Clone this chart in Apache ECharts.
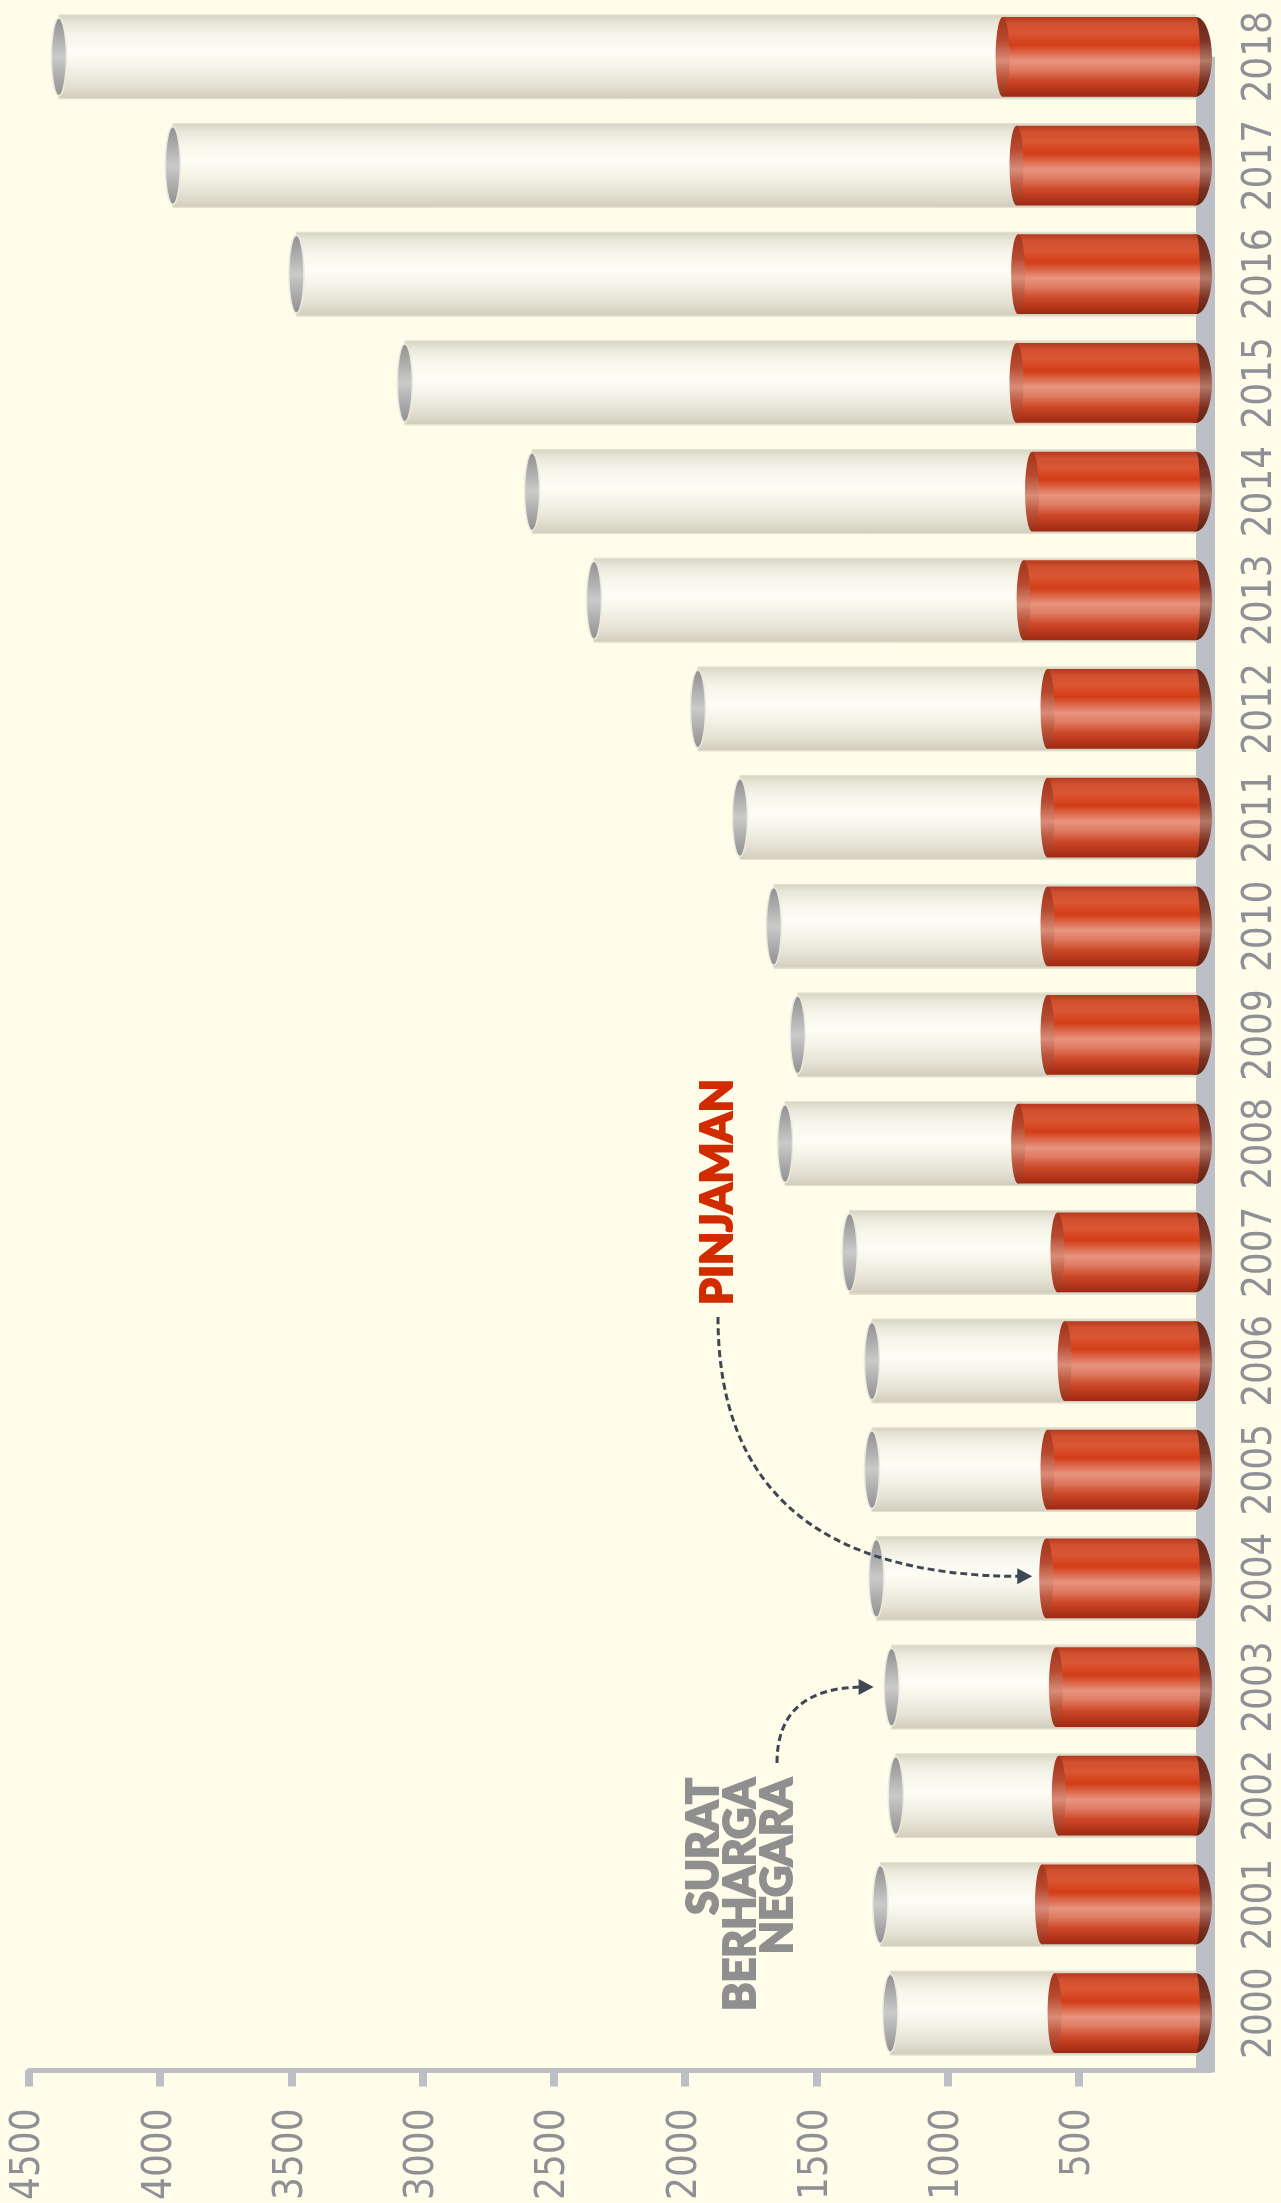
<!DOCTYPE html>
<html>
<head>
<meta charset="utf-8">
<script src="https://cdn.jsdelivr.net/npm/echarts@6/dist/echarts.min.js"></script>
<style>
html,body{margin:0;padding:0;background:#fffcea;}
#c{width:1281px;height:2203px;}
</style>
</head>
<body>
<div id="c"></div>
<script>
// ---- data (triliun rupiah) ----
const years = ['2000','2001','2002','2003','2004','2005','2006','2007','2008','2009','2010','2011','2012','2013','2014','2015','2016','2017','2018'];
const pinjaman = [592, 640, 576, 587, 624, 619, 554, 581, 731, 619, 619, 619, 619, 710, 678, 737, 731, 737, 790];
const suratBerhargaNegara = [626, 616, 621, 626, 647, 669, 734, 792, 888, 952, 1043, 1172, 1332, 1637, 1905, 2331, 2750, 3215, 3596];
const valueTicks = [500, 1000, 1500, 2000, 2500, 3000, 3500, 4000, 4500];
const labelPinjaman = 'PINJAMAN';
const labelSBN = 'SURAT\nBERHARGA\nNEGARA';

const NARROW = "'Liberation Sans Narrow','DejaVu Sans Condensed','Roboto Condensed',Roboto,sans-serif";
const AXIS_GRAY = '#bdbfc6';
const TEXT_GRAY = '#8e9095';

function vgrad(stops){
  return {type:'linear', x:0, y:0, x2:0, y2:1, colorStops: stops.map(s=>({offset:s[0], color:s[1]}))};
}
const whiteGrad = vgrad([[0,'#d6d3c3'],[0.1,'#e9e7d9'],[0.25,'#f7f6eb'],[0.45,'#fdfdf6'],[0.6,'#f6f5ea'],[0.8,'#e7e5d7'],[0.92,'#dad7c8'],[1,'#cfccbc']]);
const grayGrad = vgrad([[0,'#8f8f8f'],[0.5,'#cacaca'],[1,'#8f8f8f']]);
const redGrad = vgrad([[0,'#b5391d'],[0.08,'#d0502f'],[0.2,'#db5633'],[0.35,'#d23d17'],[0.55,'#e8947f'],[0.66,'#e07c63'],[0.8,'#cd4828'],[0.92,'#b2341a'],[1,'#9c2a12']]);
const capGrad = vgrad([[0,'#a3341b'],[0.3,'#b84a30'],[0.55,'#d98c78'],[0.75,'#bd553b'],[1,'#9a2d16']]);
const rimGrad = vgrad([[0,'#6a2719'],[0.3,'#7d3526'],[0.55,'#b27868'],[0.8,'#7a3122'],[1,'#62230f']]);

const chart = echarts.init(document.getElementById('c'));

const option = {
  backgroundColor: '#fffcea',
  animation: false,
  grid: {left: 29, right: 70.75, top: 2.5, bottom: 128.5, containLabel: false},
  xAxis: {
    type: 'value', inverse: true, min: 0, max: 4500, interval: 500,
    position: 'bottom', offset: 3,
    splitLine: {show: false},
    axisLine: {show: true, lineStyle: {color: AXIS_GRAY, width: 5}},
    axisTick: {show: true, length: 16, customValues: valueTicks, lineStyle: {color: AXIS_GRAY, width: 8}},
    axisLabel: {show: true, customValues: valueTicks, formatter: v => String(v), rotate: 90, margin: 38, fontSize: 40, color: TEXT_GRAY, fontFamily: NARROW}
  },
  yAxis: {
    type: 'category', data: years, position: 'right',
    axisLine: {show: false}, axisTick: {show: false}, splitLine: {show: false},
    axisLabel: {interval: 0, rotate: 90, margin: 31, fontSize: 40, color: TEXT_GRAY, fontFamily: NARROW}
  },
  series: [
    {
      type: 'custom', name: 'plate', z: 1, silent: true,
      data: [[0, 0]],
      encode: {x: 0, y: 1},
      renderItem: function(params, api){
        const top = api.coord([0, years.length - 1]);
        const bot = api.coord([0, 0]);
        const band = api.size([0, 1])[1];
        return {type: 'rect', shape: {x: top[0] - 14, y: top[1], width: 19, height: bot[1] + band/2 + 5 - top[1]}, style: {fill: AXIS_GRAY}};
      }
    },
    {
      type: 'custom', name: 'Utang', z: 2,
      data: years.map((y, i) => [pinjaman[i], y, suratBerhargaNegara[i]]),
      encode: {x: 0, y: 1},
      renderItem: function(params, api){
        const ci = api.value(1), p = api.value(0), s = api.value(2);
        const z0 = api.coord([0, ci]);
        const cp = api.coord([p, ci]);
        const ct = api.coord([p + s, ci]);
        const band = api.size([0, 1])[1];
        const h = band * 0.734, hw = band * 0.77;
        const y = z0[1];
        const xr = z0[0] - 14;
        return {type: 'group', children: [
          {type: 'rect', shape: {x: ct[0], y: y - hw/2, width: xr - ct[0], height: hw}, style: {fill: whiteGrad, stroke: '#e2e0d0', lineWidth: 1}},
          {type: 'ellipse', shape: {cx: ct[0], cy: y, rx: 7.5, ry: h/2 - 1}, style: {fill: grayGrad, stroke: '#eceadd', lineWidth: 1.5}},
          {type: 'ellipse', shape: {cx: xr, cy: y, rx: 16, ry: h/2}, style: {fill: rimGrad}},
          {type: 'rect', shape: {x: cp[0], y: y - h/2, width: xr - cp[0], height: h}, style: {fill: redGrad}},
          {type: 'ellipse', shape: {cx: xr, cy: y, rx: 4, ry: h/2}, style: {fill: redGrad}},
          {type: 'ellipse', shape: {cx: cp[0], cy: y, rx: 7, ry: h/2}, style: {fill: capGrad}}
        ]};
      }
    }
  ]
};
chart.setOption(option);

// annotations, arrow tips anchored to data
const i04 = years.indexOf('2004'), i03 = years.indexOf('2003');
const tipP = chart.convertToPixel({gridIndex: 0}, [pinjaman[i04], i04]);
const tipS = chart.convertToPixel({gridIndex: 0}, [pinjaman[i03] + suratBerhargaNegara[i03], i03]);
const a1s = [718, 1317], a1e = [tipP[0] - 14, tipP[1] - 2];
const a2s = [777, 1763], a2e = [tipS[0] - 18, tipS[1]];
const ARROW = '#3e4753';
function arrow(s, e){
  return [
    {type: 'bezierCurve', shape: {x1: s[0], y1: s[1], x2: e[0] - 10, y2: e[1], cpx1: s[0], cpy1: e[1]},
     style: {stroke: ARROW, lineWidth: 3, lineDash: [7, 4], fill: null}, z: 10},
    {type: 'polygon', shape: {points: [[e[0], e[1]], [e[0] - 15, e[1] - 8], [e[0] - 15, e[1] + 8]]}, style: {fill: ARROW}, z: 10}
  ];
}
const HEAVY = "900 43px 'Lato Black', Lato, 'Noto Sans', sans-serif";
chart.setOption({
  graphic: [
    {type: 'text', x: 718, y: 1192, rotation: Math.PI/2, z: 10,
     style: {text: labelPinjaman, fill: '#d22b00', stroke: '#d22b00', lineWidth: 2, font: HEAVY, align: 'center', verticalAlign: 'middle'}},
    {type: 'text', x: 741, y: 1778, rotation: Math.PI/2, z: 10,
     style: {text: labelSBN, fill: '#8f8f8f', stroke: '#8f8f8f', lineWidth: 2, font: HEAVY, align: 'right', verticalAlign: 'middle', lineHeight: 37}},
    ...arrow(a1s, a1e),
    ...arrow(a2s, a2e)
  ]
});
</script>
</body>
</html>
